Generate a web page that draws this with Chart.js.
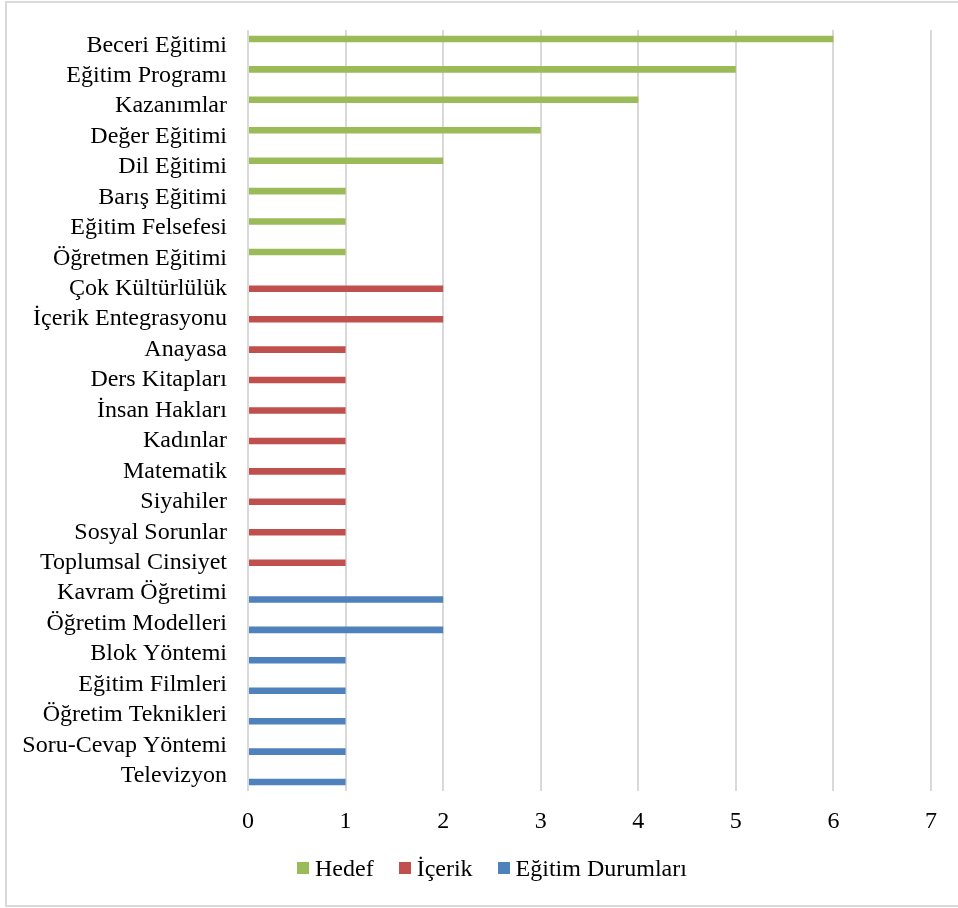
<!DOCTYPE html>
<html lang="tr">
<head>
<meta charset="UTF-8">
<title>Hedef / İçerik / Eğitim Durumları</title>
<script src="https://cdn.jsdelivr.net/npm/chart.js"></script>
<style>
  html, body { margin: 0; padding: 0; background: #fff; }
  #wrap { position: relative; width: 958px; height: 908px; }
  #frame { position: absolute; left: 5px; top: 1px; width: 955px; height: 906px; border: 2px solid #d9d9d9; box-sizing: border-box; }
  #chart { position: absolute; left: 0; top: 0; }
  #legend { position: absolute; left: 297px; top: 853px; display: flex; align-items: center;
            font: 24px 'Liberation Serif', 'Times New Roman', serif; color: #000; line-height: 30px; }
  #legend .item { display: flex; align-items: center; margin-right: 25px; }
  #legend .box { width: 12px; height: 12px; margin-right: 6px; }
</style>
</head>
<body>
<div id="wrap">
  <div id="frame"></div>
  <canvas id="chart" width="958" height="908"></canvas>
  <div id="legend"></div>
</div>
<script>
const categories = [
  'Beceri Eğitimi', 'Eğitim Programı', 'Kazanımlar', 'Değer Eğitimi', 'Dil Eğitimi',
  'Barış Eğitimi', 'Eğitim Felsefesi', 'Öğretmen Eğitimi',
  'Çok Kültürlülük', 'İçerik Entegrasyonu', 'Anayasa', 'Ders Kitapları', 'İnsan Hakları',
  'Kadınlar', 'Matematik', 'Siyahiler', 'Sosyal Sorunlar', 'Toplumsal Cinsiyet',
  'Kavram Öğretimi', 'Öğretim Modelleri', 'Blok Yöntemi', 'Eğitim Filmleri',
  'Öğretim Teknikleri', 'Soru-Cevap Yöntemi', 'Televizyon'
];

const seriesNames = ['Hedef', 'İçerik', 'Eğitim Durumları'];

const hedef = [6, 5, 4, 3, 2, 1, 1, 1,
  null, null, null, null, null, null, null, null, null, null,
  null, null, null, null, null, null, null];

const icerik = [null, null, null, null, null, null, null, null,
  2, 2, 1, 1, 1, 1, 1, 1, 1, 1,
  null, null, null, null, null, null, null];

const egitimDurumlari = [null, null, null, null, null, null, null, null,
  null, null, null, null, null, null, null, null, null, null,
  2, 2, 1, 1, 1, 1, 1];

const xTicks = [0, 1, 2, 3, 4, 5, 6, 7];

const colors = ['#9bbb59', '#c0504d', '#4f81bd'];
const font = { family: "'Liberation Serif', 'Times New Roman', serif", size: 24 };

// legend drawn as html so the box/text spacing can follow the original
const legendEl = document.getElementById('legend');
seriesNames.forEach((name, i) => {
  const item = document.createElement('div');
  item.className = 'item';
  const box = document.createElement('span');
  box.className = 'box';
  box.style.background = colors[i];
  item.appendChild(box);
  item.appendChild(document.createTextNode(name));
  legendEl.appendChild(item);
});

new Chart(document.getElementById('chart'), {
  type: 'bar',
  data: {
    labels: categories,
    datasets: [hedef, icerik, egitimDurumlari].map((d, i) => ({
      label: seriesNames[i],
      data: d,
      backgroundColor: colors[i],
      categoryPercentage: 0.62,
      barPercentage: 1.04
    }))
  },
  options: {
    indexAxis: 'y',
    responsive: false,
    animation: false,
    layout: { padding: { top: 30, right: 27, left: 0, bottom: 0 } },
    plugins: {
      tooltip: { enabled: false },
      legend: { display: false }
    },
    scales: {
      x: {
        min: xTicks[0],
        max: xTicks[xTicks.length - 1],
        afterBuildTicks: s => { s.ticks = xTicks.map(v => ({ value: v })); },
        afterFit: s => { s.height = 117; },
        grid: { color: '#d9d9d9', lineWidth: 2, drawTicks: false },
        border: { display: false },
        ticks: { color: '#000', font: font, padding: 16 }
      },
      y: {
        afterFit: s => { s.width = 248; s.paddingTop = 0; s.paddingBottom = 0; },
        grid: { display: false, drawTicks: false },
        border: { display: false },
        ticks: { color: '#000', font: font, padding: 21, autoSkip: false }
      }
    }
  }
});
</script>
</body>
</html>
